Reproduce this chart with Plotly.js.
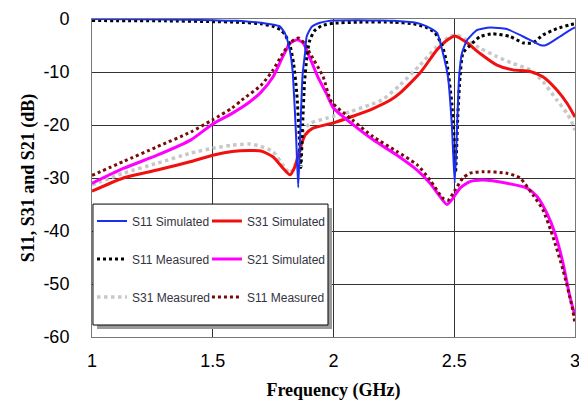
<!DOCTYPE html>
<html>
<head>
<meta charset="utf-8">
<script src="https://cdn.plot.ly/plotly-3.0.1.min.js"></script>
<style>html,body{margin:0;padding:0;background:#fff;}#chart{width:579px;height:401px;}</style>
</head>
<body>
<div id="chart"></div>
<script>
// S11 simulated (blue)
const s11SimF = [1.0,1.2,1.4,1.5,1.6,1.65,1.7,1.74,1.778,1.8,1.815,1.825,1.832,1.845,1.854,1.862,1.872,1.882,1.889,1.91,1.944,1.97,2.0,2.1,2.2,2.25,2.3,2.33,2.371,2.40,2.429,2.453,2.474,2.49,2.502,2.512,2.52,2.532,2.553,2.594,2.648,2.718,2.785,2.855,2.875,2.897,2.938,2.979,3.0];
const s11SimV = [0,-0.05,-0.15,-0.25,-0.35,-0.5,-0.7,-1.0,-1.4,-2.8,-5,-7.5,-10.5,-22,-31.8,-22,-10.5,-6.5,-3.3,-1.45,-0.7,-0.45,-0.3,-0.25,-0.3,-0.35,-0.5,-0.6,-1.1,-1.7,-2.6,-6.4,-10.9,-20,-31,-20,-11,-6.4,-4,-2.1,-1.6,-1.9,-3.3,-4.9,-5,-4.5,-3.3,-2.1,-1.6];
// S11 measured (black dotted)
const s11MeasF = [1.0,1.3,1.5,1.6,1.7,1.75,1.78,1.80,1.82,1.835,1.848,1.858,1.865,1.872,1.88,1.89,1.9,1.92,1.95,2.0,2.1,2.25,2.33,2.38,2.42,2.45,2.47,2.49,2.505,2.515,2.524,2.536,2.565,2.607,2.66,2.73,2.785,2.826,2.868,2.925,2.979,3.0];
const s11MeasV = [-0.3,-0.35,-0.5,-0.6,-0.9,-1.4,-2,-3,-5,-8.5,-14,-22,-28,-20,-12,-7,-4.3,-2.3,-1.3,-0.8,-0.6,-0.6,-0.9,-1.5,-2.6,-5,-8.5,-16,-29,-18,-10.9,-6.4,-5,-3.3,-2.8,-3.3,-4.5,-4.5,-3,-1.8,-1.1,-0.9];
// S31 simulated (red)
const s31SimF = [1.0,1.13,1.27,1.41,1.5,1.58,1.65,1.7,1.749,1.79,1.82,1.84,1.86,1.882,1.915,2.0,2.077,2.164,2.236,2.275,2.358,2.429,2.47,2.503,2.553,2.607,2.677,2.743,2.814,2.867,2.925,2.967,3.0];
const s31SimV = [-32.5,-30,-28.5,-26.9,-25.7,-25,-24.8,-24.9,-26,-28.1,-29.4,-27.9,-24.7,-21.9,-20.6,-19.6,-18.4,-16.9,-15.3,-14,-10.2,-5.8,-4,-3.2,-4.5,-6.5,-8.7,-9.6,-9.9,-10.9,-13.4,-15.9,-18.5];
// S21 simulated (magenta)
const s21SimF = [1.0,1.13,1.27,1.41,1.5,1.58,1.654,1.7,1.75,1.79,1.82,1.85,1.875,1.9,1.935,1.97,2.0,2.077,2.164,2.263,2.346,2.4,2.441,2.47,2.495,2.524,2.565,2.619,2.718,2.801,2.843,2.884,2.917,2.95,2.979,3.0];
const s21SimV = [-31,-28.2,-25.7,-22.8,-19.8,-17.8,-15.6,-13.8,-10.9,-7.1,-4.6,-3.9,-4.6,-7.1,-10.9,-14,-16.8,-19.8,-22.8,-25.7,-28.5,-31,-33.5,-35,-33.8,-31.9,-30.7,-30.4,-31,-31.9,-33.5,-36.7,-40.4,-46,-52.4,-56];
// S31 measured (grey dotted)
const s31MeasF = [1.0,1.13,1.27,1.41,1.5,1.58,1.65,1.696,1.749,1.79,1.82,1.849,1.87,1.903,1.973,2.068,2.15,2.2,2.275,2.358,2.429,2.482,2.511,2.553,2.607,2.677,2.743,2.814,2.867,2.925,2.967,2.992,3.0];
const s31MeasV = [-31.3,-29.1,-27.2,-25.3,-24.4,-23.8,-23.6,-24,-25,-27.5,-29.1,-26.6,-21.5,-19.7,-18.7,-17.5,-16.2,-15.3,-12.5,-8.7,-5.2,-3.3,-3,-4,-5.5,-7.1,-8.4,-9.6,-11.8,-15.3,-17.8,-20,-21];
// "S11 Measured" (dark red dotted, measured transmission)
const s21MeasF = [1.0,1.13,1.27,1.41,1.5,1.58,1.62,1.7,1.75,1.79,1.825,1.855,1.88,1.903,1.957,1.99,2.077,2.164,2.263,2.346,2.4,2.453,2.474,2.503,2.536,2.565,2.619,2.718,2.772,2.826,2.867,2.908,2.95,2.988,3.0];
const s21MeasV = [-29.5,-26.9,-24.1,-21.3,-19,-16.8,-15.3,-12.5,-9.6,-6.5,-4.3,-3.6,-4.6,-6.5,-10.9,-15.5,-19,-22.2,-25,-27.5,-30.4,-33.8,-34.2,-32.3,-30,-29.1,-28.8,-29.1,-30,-33.2,-36,-41,-47.3,-54.3,-57.5];

const names = ["S11 Simulated","S31 Simulated","S11 Measured","S21 Simulated","S31 Measured","S11 Measured"];
const xTicks = [1,1.5,2,2.5,3];
const xTickText = ["1","1.5","2","2.5","3"];
const yTicks = [0,-10,-20,-30,-40,-50,-60];
const yTickText = ["0","-10","-20","-30","-40","-50","-60"];

const traces = [
  {x:s31MeasF,y:s31MeasV,name:names[4],mode:'lines',line:{color:'#c8c8c8',width:3.5,dash:'dot',shape:'spline',smoothing:0.6},legend:'legend',legendgroup:'c',legendrank:3},
  {x:s31SimF,y:s31SimV,name:names[1],mode:'lines',line:{color:'#f01010',width:3,shape:'spline',smoothing:0.6},legend:'legend2',legendgroup:'d',legendrank:1},
  {x:s21SimF,y:s21SimV,name:names[3],mode:'lines',line:{color:'#ff00ff',width:3,shape:'spline',smoothing:0.6},legend:'legend2',legendgroup:'e',legendrank:2},
  {x:s21MeasF,y:s21MeasV,name:names[5],mode:'lines',line:{color:'#7a0a0a',width:3,dash:'dot',shape:'spline',smoothing:0.6},legend:'legend2',legendgroup:'f',legendrank:3},
  {x:s11MeasF,y:s11MeasV,name:names[2],mode:'lines',line:{color:'#000000',width:3,dash:'dot',shape:'spline',smoothing:0.5},legend:'legend',legendgroup:'b',legendrank:2},
  {x:s11SimF,y:s11SimV,name:names[0],mode:'lines',line:{color:'#1a2ff0',width:2,shape:'spline',smoothing:0.5},legend:'legend',legendgroup:'a',legendrank:1}
];

const legFont = {family:'Liberation Sans, Arial, sans-serif',size:12,color:'#333344'};
const legCommon = {bgcolor:'rgba(0,0,0,0)',borderwidth:0,font:legFont,traceorder:'grouped',tracegroupgap:19,yanchor:'top',xanchor:'left',y:0.41,itemwidth:30};

const layout = {
  width:579,height:401,
  margin:{l:92,r:4,t:19,b:64},
  paper_bgcolor:'#fff',plot_bgcolor:'#fff',
  showlegend:true,
  legend:Object.assign({},legCommon,{x:0.0}),
  legend2:Object.assign({},legCommon,{x:0.238}),
  xaxis:{range:[1,3],tickvals:xTicks,ticktext:xTickText,showgrid:true,gridcolor:'#333',gridwidth:1,
    showline:true,linecolor:'#777',linewidth:1,mirror:true,zeroline:false,ticks:'',ticklabelstandoff:7,ticklabeloverflow:'allow',
    tickfont:{family:'Liberation Sans, Arial, sans-serif',size:18,color:'#000'},
    title:{text:'Frequency (GHz)',standoff:14,font:{family:'Liberation Serif, Times New Roman, serif',size:18,weight:'bold',color:'#000'}}},
  yaxis:{range:[-60,0],tickvals:yTicks,ticktext:yTickText,showgrid:true,gridcolor:'#333',gridwidth:1,
    showline:true,linecolor:'#777',linewidth:1,mirror:true,zeroline:false,ticks:'',ticklabelstandoff:18,
    tickfont:{family:'Liberation Sans, Arial, sans-serif',size:18,color:'#000'},
    title:{text:'S11, S31 and S21 (dB)',standoff:4,font:{family:'Liberation Serif, Times New Roman, serif',size:18,weight:'bold',color:'#000'}}},
  shapes:[
    {type:'rect',xref:'paper',yref:'paper',x0:0.0104,x1:0.4969,y0:0.0252,y1:0.4057,fillcolor:'#9a9a9a',line:{width:0},layer:'above'},
    {type:'rect',xref:'paper',yref:'paper',x0:0.002,x1:0.4886,y0:0.0377,y1:0.418,fillcolor:'#ffffff',line:{color:'#000',width:1},layer:'above'}
  ]
};

Plotly.newPlot('chart',traces,layout,{displayModeBar:false,staticPlot:true});
</script>
</body>
</html>
